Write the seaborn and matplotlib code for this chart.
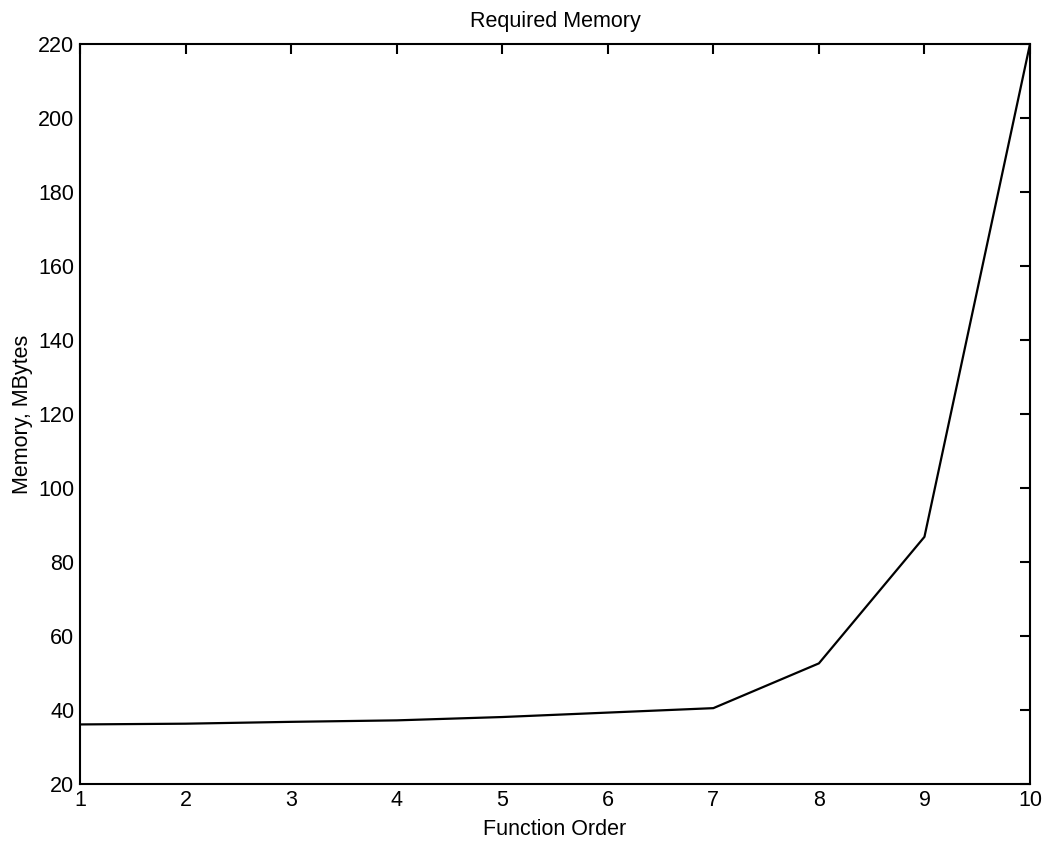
import matplotlib
matplotlib.use("Agg")
import matplotlib.pyplot as plt
import seaborn as sns
import pandas as pd

order = [1, 2, 3, 4, 5, 6, 7, 8, 9, 10]
memory = [36.1, 36.3, 36.8, 37.2, 38.1, 39.3, 40.5, 52.6, 86.8, 220.0]
x_ticks = [1, 2, 3, 4, 5, 6, 7, 8, 9, 10]
y_ticks = [20, 40, 60, 80, 100, 120, 140, 160, 180, 200, 220]

sns.set_style("white")
plt.rcParams['font.family'] = ['Liberation Sans', 'DejaVu Sans']
plt.rcParams['text.color'] = 'black'
plt.rcParams['axes.labelcolor'] = 'black'

df = pd.DataFrame({"order": order, "memory": memory})

fig = plt.figure(figsize=(10.49, 8.44), dpi=100)
ax = fig.add_axes([80/1049, (844-784)/844, 950/1049, 740/844])
sns.lineplot(data=df, x="order", y="memory", ax=ax, color="black", linewidth=1.6)

ax.set_xlim(1, 10)
ax.set_ylim(20, 220)
ax.set_xticks(x_ticks)
ax.set_yticks(y_ticks)
ax.tick_params(direction="in", length=7, width=1.5, top=True, right=True,
               labelsize=15.5, pad=4, colors="black")
for s in ax.spines.values():
    s.set_color("black")
    s.set_linewidth(1.5)
    s.set_visible(True)

ax.set_title("Required Memory", fontsize=15.5, pad=12, color="black")
ax.set_xlabel("Function Order", fontsize=15.5, labelpad=6, color="black")
ax.set_ylabel("Memory, MBytes", fontsize=15.5, labelpad=4, color="black")

fig.savefig("out.png", dpi=100)
